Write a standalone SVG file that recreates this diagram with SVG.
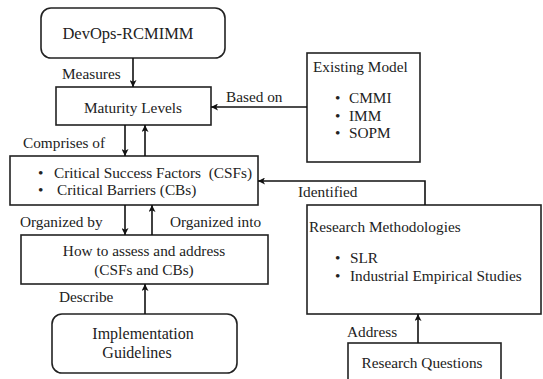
<svg xmlns="http://www.w3.org/2000/svg" width="543" height="379" viewBox="0 0 543 379" font-family="Liberation Serif, Times New Roman, serif">
<defs>
<marker id="ah" viewBox="0 0 10 10" refX="10" refY="5" markerWidth="7" markerHeight="7" markerUnits="userSpaceOnUse" orient="auto">
<path d="M0,0 L10,5 L0,10 L2.5,5 Z" fill="#111"/>
</marker>
<style>
text{font-family:"Liberation Serif","Times New Roman",serif;font-size:15.3px;fill:#222}
.box{fill:#fff;stroke:#222;stroke-width:1.6}
.c{text-anchor:middle}
.big{font-size:16.5px}
.mid{font-size:16px}
.ln{fill:none;stroke:#111;stroke-width:1.6;marker-end:url(#ah)}
</style>
</defs>
<rect width="543" height="379" fill="#fff"/>
<g id="devops">
<rect class="box" x="41" y="8" width="184" height="50" rx="10"/>
<text class="c big" x="128" y="39">DevOps-RCMIMM</text>
</g>
<g id="maturity">
<rect class="box" x="56" y="87" width="155" height="38"/>
<text class="c" x="133" y="113">Maturity Levels</text>
</g>
<g id="existing">
<rect class="box" x="307" y="53" width="113" height="109"/>
<text x="313" y="72">Existing Model</text>
<text x="335" y="103">•</text><text x="349" y="103">CMMI</text>
<text x="335" y="121">•</text><text x="349" y="121">IMM</text>
<text x="335" y="138">•</text><text x="349" y="138">SOPM</text>
</g>
<g id="csf">
<rect class="box" x="10" y="156" width="248" height="49"/>
<text x="38" y="178">•</text><text x="54" y="178" xml:space="preserve">Critical Success Factors  (CSFs)</text>
<text x="38" y="195">•</text><text x="57" y="195">Critical Barriers (CBs)</text>
</g>
<g id="assess">
<rect class="box" x="21" y="235" width="247" height="49"/>
<text class="c" x="144" y="256">How to assess and address</text>
<text class="c" x="144" y="275">(CSFs and CBs)</text>
</g>
<g id="guidelines">
<rect class="box" x="52" y="314" width="185" height="59" rx="10"/>
<text class="c mid" x="143" y="339">Implementation</text>
<text class="c mid" x="137" y="358">Guidelines</text>
</g>
<g id="methodologies">
<rect class="box" x="307" y="205" width="234" height="109"/>
<text x="309" y="232">Research Methodologies</text>
<text x="335" y="263">•</text><text x="350" y="263">SLR</text>
<text x="335" y="281">•</text><text x="350" y="281">Industrial Empirical Studies</text>
</g>
<g id="questions">
<rect class="box" x="348" y="343" width="153" height="45"/>
<text class="c" x="422" y="368">Research Questions</text>
</g>
<g id="connectors">
<line class="ln" x1="133" y1="58" x2="133" y2="87"/>
<text x="62" y="79">Measures</text>
<line class="ln" x1="307" y1="107" x2="211" y2="107"/>
<text x="226" y="102">Based on</text>
<line class="ln" x1="125" y1="125" x2="125" y2="156"/>
<line class="ln" x1="145" y1="156" x2="145" y2="125"/>
<text x="23" y="148">Comprises of</text>
<polyline class="ln" points="425,205 425,181 258,181"/>
<text x="298" y="197">Identified</text>
<line class="ln" x1="125" y1="205" x2="125" y2="235"/>
<line class="ln" x1="152" y1="235" x2="152" y2="205"/>
<text x="20" y="227">Organized by</text>
<text x="170" y="227">Organized into</text>
<line class="ln" x1="145" y1="314" x2="145" y2="284"/>
<text x="59" y="302">Describe</text>
<line class="ln" x1="418" y1="343" x2="418" y2="314"/>
<text x="347" y="337">Address</text>
</g>
</svg>
